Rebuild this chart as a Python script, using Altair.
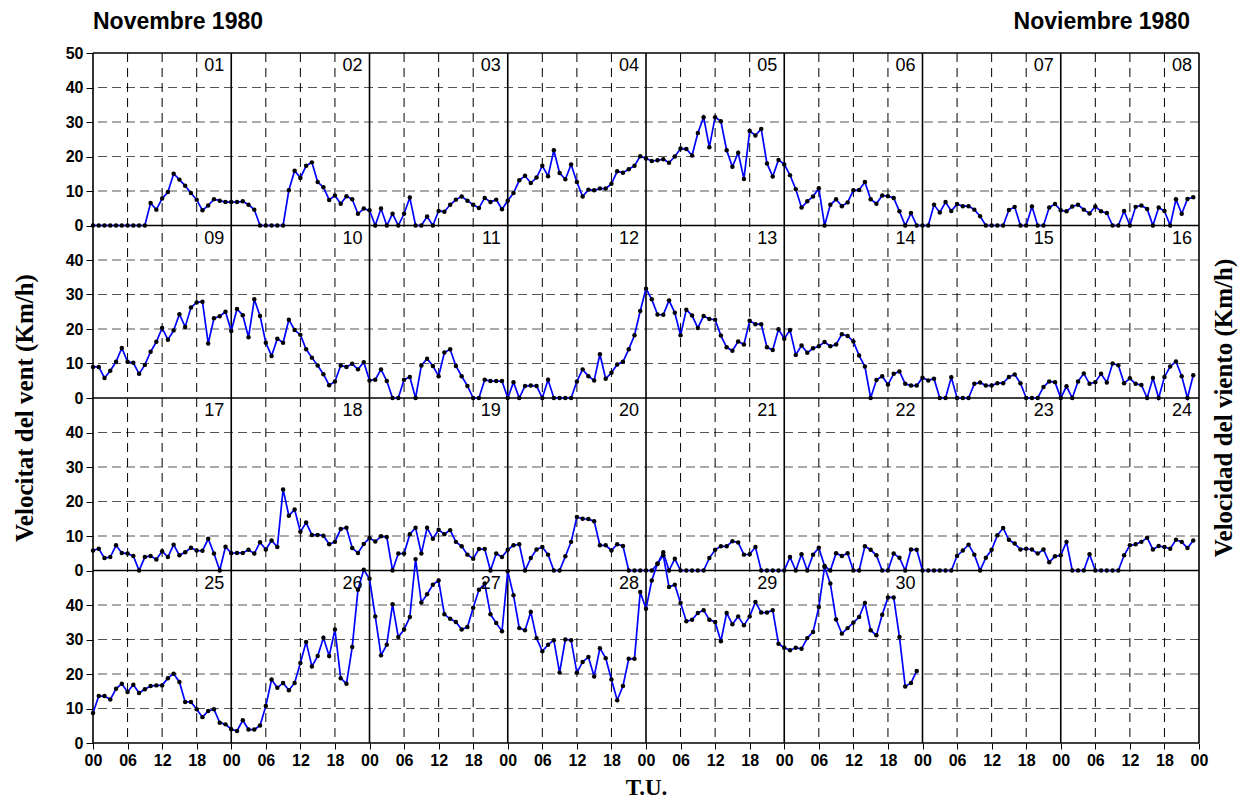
import altair as alt
import pandas as pd

# Hourly wind speed (km/h), November 1980, hours 00..23 of each day
d01 = [0, 0, 0, 0, 0, 0, 0, 0, 0, 0, 6.5, 4.6, 7.8, 9.7, 15.0, 13.3, 11.5, 9.4, 7.5, 4.4, 5.8, 7.6, 7.2, 6.8]
d02 = [6.8, 6.8, 7.0, 6.0, 4.6, 0, 0, 0, 0, 0, 10.2, 15.9, 13.8, 17.3, 18.3, 12.6, 11.1, 7.4, 8.7, 6.3, 8.5, 7.6, 3.4, 4.9]
d03 = [4.4, 0, 4.9, 0, 3.4, 0, 3.4, 8.1, 0, 0, 2.6, 0, 4.2, 4.0, 6.0, 7.5, 8.4, 7.2, 6.0, 5.1, 8.0, 6.8, 7.5, 4.7]
d04 = [7.2, 9.4, 13.1, 14.4, 12.3, 13.9, 17.3, 14.3, 21.8, 15.2, 13.4, 17.7, 12.6, 8.4, 10.4, 10.2, 10.7, 10.7, 12.1, 15.7, 15.3, 16.3, 17.3, 20.1]
d05 = [19.4, 18.7, 18.9, 19.2, 18.2, 20.0, 22.3, 22.2, 20.3, 26.8, 31.4, 22.7, 31.4, 30.2, 21.8, 17.0, 21.1, 13.5, 27.4, 26.1, 28.0, 18.0, 14.2, 19.0]
d06 = [17.7, 14.6, 10.5, 5.2, 7.0, 8.4, 10.8, 0, 6.0, 7.6, 5.6, 6.7, 10.2, 10.3, 12.6, 7.6, 6.3, 8.7, 8.5, 8.0, 4.1, 0, 3.6, 0]
d07 = [0, 0, 6.0, 3.8, 6.8, 4.2, 6.2, 5.6, 5.6, 4.6, 2.7, 0, 0, 0, 0, 4.5, 5.4, 0, 0, 5.5, 0, 0, 5.2, 6.2]
d08 = [4.4, 4.1, 5.5, 6.0, 4.6, 3.5, 5.5, 4.1, 3.6, 0, 0, 4.2, 0, 5.4, 5.8, 4.8, 0, 5.2, 4.2, 0, 7.6, 3.4, 7.7, 8.2]
d09 = [9.0, 9.0, 5.8, 7.9, 10.5, 14.5, 10.5, 10.2, 7.0, 9.6, 13.4, 16.3, 20.3, 16.9, 19.6, 24.3, 20.6, 26.2, 27.7, 27.9, 15.8, 23.1, 23.7, 25.0]
d10 = [19.4, 25.8, 24.0, 17.6, 28.6, 23.8, 16.0, 12.2, 17.2, 16.0, 22.7, 19.7, 18.3, 14.1, 11.7, 9.4, 6.9, 3.7, 4.8, 9.4, 9.0, 9.9, 8.3, 10.4]
d11 = [5.1, 5.3, 8.3, 4.9, 0, 0, 5.3, 6.1, 0, 9.4, 11.4, 9.3, 6.3, 13.2, 14.1, 9.3, 6.3, 3.5, 0, 0, 5.3, 4.9, 4.9, 4.9]
d12 = [0, 4.6, 0, 3.5, 3.6, 3.5, 0, 5.3, 0, 0, 0, 0, 4.8, 8.3, 6.3, 5.1, 12.7, 5.6, 7.3, 9.7, 10.5, 14.1, 18.2, 25.2]
d13 = [31.7, 28.6, 24.2, 24.1, 28.3, 24.7, 18.2, 25.6, 23.9, 20.3, 23.8, 22.9, 22.7, 18.1, 14.7, 13.7, 16.4, 15.5, 22.4, 21.4, 21.4, 14.7, 13.9, 19.9]
d14 = [17.2, 19.7, 12.5, 15.2, 13.1, 14.4, 15.0, 16.2, 15.0, 15.5, 18.5, 18.0, 16.4, 12.3, 9.1, 0, 5.2, 6.3, 3.9, 7.0, 7.7, 4.1, 3.6, 3.6]
d15 = [5.9, 5.1, 5.6, 0, 0, 6.0, 0, 0, 0, 4.1, 4.5, 3.6, 3.6, 4.3, 4.3, 6.1, 6.8, 4.3, 0, 0, 0, 3.2, 4.8, 4.6]
d16 = [0, 3.4, 0, 4.8, 7.1, 4.1, 4.6, 7.0, 4.5, 10.0, 9.5, 4.3, 5.7, 4.1, 3.8, 0, 5.8, 0, 6.1, 9.1, 10.6, 6.3, 0, 6.6]
d17 = [5.8, 6.3, 3.6, 3.9, 7.3, 5.1, 4.9, 4.2, 0, 3.9, 4.2, 3.2, 5.6, 3.9, 7.5, 4.4, 5.3, 6.6, 5.8, 5.7, 9.2, 4.9, 0, 6.9]
d18 = [5.0, 5.1, 5.1, 6.0, 4.9, 8.2, 6.1, 8.7, 6.8, 23.5, 15.9, 17.7, 11.2, 13.9, 10.3, 10.3, 10.1, 7.6, 8.3, 12.0, 12.4, 6.5, 5.1, 7.7]
d19 = [9.4, 8.4, 9.9, 9.7, 0, 4.9, 4.9, 10.5, 12.4, 4.9, 12.4, 9.2, 11.8, 10.5, 11.7, 8.3, 7.0, 4.6, 3.4, 6.2, 6.2, 0, 4.9, 3.9]
d20 = [6.0, 7.3, 7.6, 0, 3.6, 6.1, 6.8, 4.6, 0, 0, 4.1, 8.3, 15.5, 15.0, 14.9, 14.3, 7.3, 7.3, 5.8, 7.6, 7.1, 0, 0, 0]
d21 = [0, 0, 1.9, 5.3, 0, 3.4, 0, 0, 0, 0, 0, 3.6, 6.0, 7.0, 7.0, 8.5, 8.1, 4.6, 4.7, 6.8, 0, 0, 0, 0]
d22 = [0, 3.9, 0, 4.7, 0, 4.6, 6.6, 1.3, 0, 5.0, 4.2, 5.0, 0, 0, 7.0, 6.0, 4.4, 0, 0, 4.9, 3.7, 0, 6.1, 6.0]
d23 = [0, 0, 0, 0, 0, 0, 4.2, 5.8, 7.5, 4.6, 0, 3.7, 6.0, 10.2, 12.3, 8.9, 7.8, 6.1, 6.3, 6.1, 4.9, 6.1, 2.4, 4.1]
d24 = [4.4, 8.3, 0, 0, 0, 4.7, 0, 0, 0, 0, 0, 4.4, 7.3, 7.6, 8.3, 9.5, 6.1, 7.1, 6.8, 6.3, 8.9, 8.3, 6.5, 8.7]
d25 = [8.7, 13.6, 13.6, 12.6, 15.7, 17.2, 14.8, 16.9, 14.5, 15.6, 16.5, 16.7, 16.7, 18.8, 20.1, 17.7, 11.9, 11.9, 9.8, 7.5, 9.3, 9.8, 5.9, 5.4]
d26 = [4.0, 3.5, 6.6, 3.9, 3.9, 5.1, 10.7, 18.4, 16.0, 17.4, 15.3, 17.4, 23.2, 29.3, 22.2, 25.2, 30.5, 25.2, 32.9, 18.8, 17.2, 27.8, 44.4, 50.2]
d27 = [47.6, 36.7, 25.4, 28.5, 40.2, 30.7, 32.9, 36.5, 53.3, 40.7, 43.1, 45.9, 47.1, 37.3, 36.0, 35.1, 32.9, 33.6, 39.2, 44.4, 46.2, 37.3, 34.8, 32.4]
d28 = [49.8, 42.8, 33.3, 32.7, 38.0, 30.4, 26.6, 28.5, 29.8, 20.4, 30.0, 29.8, 20.4, 23.5, 24.9, 19.3, 27.5, 24.6, 18.4, 12.4, 16.5, 24.4, 24.4, 43.8]
d29 = [38.9, 47.1, 52.0, 54.4, 45.2, 45.9, 40.6, 35.3, 35.7, 37.7, 38.5, 35.7, 35.1, 29.5, 37.7, 34.4, 36.7, 34.1, 36.7, 40.9, 37.8, 37.8, 38.5, 28.8]
d30 = [27.6, 26.9, 27.6, 27.3, 30.4, 32.2, 39.4, 51.0, 46.2, 35.8, 31.7, 33.3, 34.9, 36.5, 40.6, 32.7, 31.2, 37.2, 42.2, 42.2, 30.7, 16.4, 17.4, 20.9]

series = [d01, d02, d03, d04, d05, d06, d07, d08, d09, d10, d11, d12, d13, d14, d15,
          d16, d17, d18, d19, d20, d21, d22, d23, d24, d25, d26, d27, d28, d29, d30]
day_labels = [f"{i:02d}" for i in range(1, 31)]
hours = list(range(24))

title_left = "Novembre 1980"
title_right = "Noviembre 1980"
ytitle_left = "Velocitat del vent (Km/h)"
ytitle_right = "Velocidad del viento (Km/h)"
xtitle = "T.U."

W, H = 1106, 690

recs = []
for i, vals in enumerate(series):
    for h, v in zip(hours, vals):
        recs.append({"day": i + 1, "hour": h, "speed": v})
df = pd.DataFrame(recs)

days_df = pd.DataFrame({"day": list(range(1, 31)), "label": day_labels})
hgrid = pd.DataFrame({"yv": list(range(0, 201, 10))})
vgrid = pd.DataFrame({"xv": list(range(0, 193, 6))})

xscale = alt.Scale(domain=[0, 192], nice=False, zero=False, padding=0)
yscale = alt.Scale(domain=[0, 200], nice=False, zero=False, padding=0)

xaxis = alt.Axis(values=list(range(0, 193, 6)), tickCount=400,
                 labelExpr="format(datum.value % 24, '02d')",
                 grid=False, domain=False, tickSize=6, tickColor="black", tickWidth=1,
                 labelFont="Liberation Sans", labelFontWeight="bold", labelFontSize=16,
                 labelColor="black", labelOverlap=False, labelFlush=False, labelPadding=3,
                 title=xtitle, titleFont="Liberation Serif", titleFontSize=23,
                 titleFontWeight="bold", titleColor="black", titlePadding=8)
yaxis = alt.Axis(values=list(range(0, 201, 10)), tickCount=400,
                 labelExpr="datum.value == 200 ? '50' : '' + (datum.value % 50)",
                 grid=False, domain=False, tickSize=7, tickColor="black", tickWidth=1,
                 labelFont="Liberation Sans", labelFontWeight="bold", labelFontSize=16,
                 labelColor="black", labelOverlap=False, labelFlush=False, labelPadding=3,
                 title=None)

hdash = alt.Chart(hgrid).mark_rule(color="#555555", strokeWidth=1, strokeDash=[9, 5]).encode(
    y=alt.Y("yv:Q", scale=yscale, axis=yaxis)
).transform_filter("datum.yv % 50 != 0")
vdash = alt.Chart(vgrid).mark_rule(color="black", strokeWidth=1, strokeDash=[9, 6]).encode(
    x=alt.X("xv:Q", scale=xscale, axis=xaxis)
).transform_filter("datum.xv % 24 != 0")
hsolid = alt.Chart(hgrid).mark_rule(color="black", strokeWidth=1.6).encode(
    y=alt.Y("yv:Q", scale=yscale, axis=yaxis)
).transform_filter("datum.yv % 50 == 0")
vsolid = alt.Chart(vgrid).mark_rule(color="black", strokeWidth=1.6).encode(
    x=alt.X("xv:Q", scale=xscale, axis=xaxis)
).transform_filter("datum.xv % 24 == 0")

base = alt.Chart(df).transform_calculate(
    row="floor((datum.day - 1) / 8)",
    col="(datum.day - 1) % 8",
).transform_calculate(
    t="datum.col * 24 + datum.hour",
    yy="(3 - datum.row) * 50 + datum.speed",
)
line = base.mark_line(color="#0000ff", strokeWidth=1.7).encode(
    x=alt.X("t:Q", scale=xscale, axis=xaxis),
    y=alt.Y("yy:Q", scale=yscale, axis=yaxis),
    detail="row:N",
    order="t:Q",
)
pts = base.mark_circle(color="black", size=20, opacity=1).encode(
    x=alt.X("t:Q", scale=xscale, axis=xaxis),
    y=alt.Y("yy:Q", scale=yscale, axis=yaxis),
)

labels = alt.Chart(days_df).transform_calculate(
    row="floor((datum.day - 1) / 8)",
    col="(datum.day - 1) % 8",
).transform_calculate(
    xr="datum.col * 24 + 24",
    yt="(3 - datum.row) * 50 + 50",
).mark_text(align="right", baseline="top", dx=-7, dy=4, fontSize=18,
            font="Liberation Sans", color="black").encode(
    x=alt.X("xr:Q", scale=xscale, axis=xaxis),
    y=alt.Y("yt:Q", scale=yscale, axis=yaxis),
    text="label:N",
)

tdf = pd.DataFrame({"a": [0]})
t1 = alt.Chart(tdf).mark_text(align="left", baseline="middle", fontSize=23, fontWeight="bold",
                              font="Liberation Sans", color="black").encode(
    x=alt.value(0), y=alt.value(-31), text=alt.value(title_left))
t2 = alt.Chart(tdf).mark_text(align="right", baseline="middle", fontSize=23, fontWeight="bold",
                              font="Liberation Sans", color="black").encode(
    x=alt.value(1097), y=alt.value(-31), text=alt.value(title_right))
t3 = alt.Chart(tdf).mark_text(align="center", baseline="middle", fontSize=25, fontWeight="bold",
                              font="Liberation Serif", color="black", angle=270).encode(
    x=alt.value(-68), y=alt.value(355), text=alt.value(ytitle_left))
t4 = alt.Chart(tdf).mark_text(align="center", baseline="middle", fontSize=25, fontWeight="bold",
                              font="Liberation Serif", color="black", angle=270).encode(
    x=alt.value(1131), y=alt.value(355), text=alt.value(ytitle_right))

chart = alt.layer(hdash, vdash, hsolid, vsolid, line, pts, labels, t1, t2, t3, t4).properties(
    width=W, height=H,
    autosize=alt.AutoSizeParams(type="none"),
    padding={"left": 85, "top": 45, "right": 44, "bottom": 58},
    background="white",
).configure_view(stroke=None).configure_axis(labelOverlap=False)

chart.save("out.html", embed_options={"renderer": "svg", "actions": False})
